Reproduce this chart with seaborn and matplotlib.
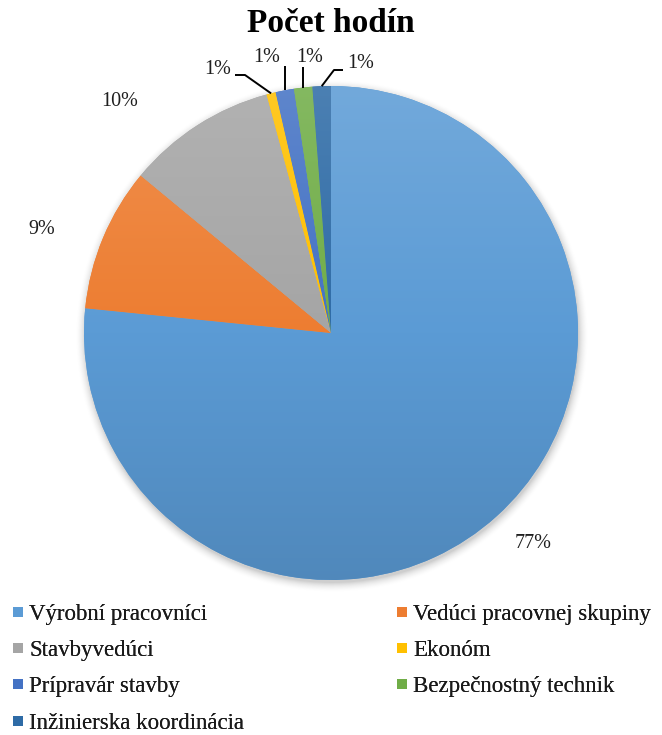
import numpy as np
import matplotlib
matplotlib.use("Agg")
import matplotlib.pyplot as plt
import seaborn as sns
from matplotlib.colors import LinearSegmentedColormap, to_rgb
from matplotlib.lines import Line2D

# Share of working hours per role
categories = [
    "Výrobní pracovníci",
    "Vedúci pracovnej skupiny",
    "Stavbyvedúci",
    "Ekonóm",
    "Prípravár stavby",
    "Bezpečnostný technik",
    "Inžinierska koordinácia",
]
shares = [76.6, 9.4, 9.8, 0.6, 1.2, 1.2, 1.2]
hex_colors = ["#5B9BD5", "#ED7D31", "#A5A5A5", "#FFC000", "#4472C4", "#70AD47", "#2E6BA6"]
title = "Počet hodín"

sns.set_theme(style="white")
plt.rcParams["font.family"] = ["Liberation Serif", "DejaVu Serif"]
palette = sns.color_palette(hex_colors)

W, H = 662, 735
fig = plt.figure(figsize=(W / 100, H / 100), dpi=100)
fig.patch.set_facecolor("white")

# pie axes: centre at (331, 333) px, radius 247 px
R = 247.0
half = 300.0
cx, cy = 331.0, 333.0
ax = fig.add_axes([(cx - half) / W, (H - cy - half) / H, 2 * half / W, 2 * half / H])
ax.set_axis_off()

# soft drop shadow behind the pie
for k in range(10):
    shadow = plt.Circle((0.004, -0.012), 1.0 + 0.004 * k, color="black",
                        alpha=0.035 * (1 - k / 10), lw=0, zorder=0)
    ax.add_patch(shadow)

wedges, _ = ax.pie(shares, colors=palette, startangle=90, counterclock=False,
                   radius=1.0, wedgeprops=dict(linewidth=0))
for w in wedges:
    w.set_zorder(1)

# vertical light-to-dark gradient inside each slice
grad = np.linspace(1, 0, 256).reshape(-1, 1)
for w, c in zip(wedges, palette):
    c = np.array(to_rgb(c))
    top = c + (1 - c) * 0.14
    bot = c * 0.88
    cmap = LinearSegmentedColormap.from_list("g", [bot, c, top])
    im = ax.imshow(grad, extent=[-1, 1, -1, 1], cmap=cmap, vmin=0, vmax=1,
                   aspect="auto", zorder=2, interpolation="bilinear")
    im.set_clip_path(w)

ax.set_xlim(-half / R, half / R)
ax.set_ylim(-half / R, half / R)

# percentage labels
total = sum(shares)
labels = [f"{v / total * 100:.0f}%" for v in shares]

def px(x, y):
    return ((x - cx) / R, (cy - y) / R)

label_pos = [px(533, 543), px(42, 230), px(120, 102), px(218, 70),
             px(267, 57), px(310, 57), px(361, 63)]
for lab, (x, y) in zip(labels, label_pos):
    ax.text(x, y, lab, ha="center", va="center", fontsize=14.5, color="#1f1f1f", zorder=5)

# leader lines for the thin slices: from the arc midpoint to the label
cum = np.cumsum([0] + shares) / total * 360.0
mids = 90.0 - (cum[:-1] + cum[1:]) / 2.0
leader_bends = {
    3: [px(245, 75), px(235, 75)],
    4: [px(287, 66)],
    5: [px(306, 67)],
    6: [px(334, 70), px(343, 70)],
}
for i, bends in leader_bends.items():
    a = np.deg2rad(mids[i])
    xs = [np.cos(a) * 1.0] + [b[0] for b in bends]
    ys = [np.sin(a) * 1.0] + [b[1] for b in bends]
    if i in (4, 5):
        xs = [xs[0], xs[0]]
    ax.plot(xs, ys, color="black", lw=1.4, zorder=6, solid_capstyle="butt")

fig.text(0.5, 1 - 23 / H, title, ha="center", va="center",
         fontsize=24, fontweight="bold", color="black")

# legend in two columns, filled row by row
def make_handle(i):
    return Line2D([0], [0], marker="s", linestyle="none", markersize=6.5,
                  markerfacecolor=palette[i], markeredgewidth=0)

legend_kw = dict(loc="upper left", frameon=False, fontsize=16.5,
                 handlelength=0.5, handletextpad=0.25, labelspacing=0.66,
                 borderaxespad=0, borderpad=0, labelcolor="#1a1a1a")
for col, x0 in ((range(0, 7, 2), 12), (range(1, 7, 2), 396)):
    idx = list(col)
    leg = fig.legend([make_handle(i) for i in idx], [categories[i] for i in idx],
                     bbox_to_anchor=(x0 / W, 1 - 604 / H), **legend_kw)
    fig.add_artist(leg)

fig.savefig("out.png", dpi=100, facecolor="white")
